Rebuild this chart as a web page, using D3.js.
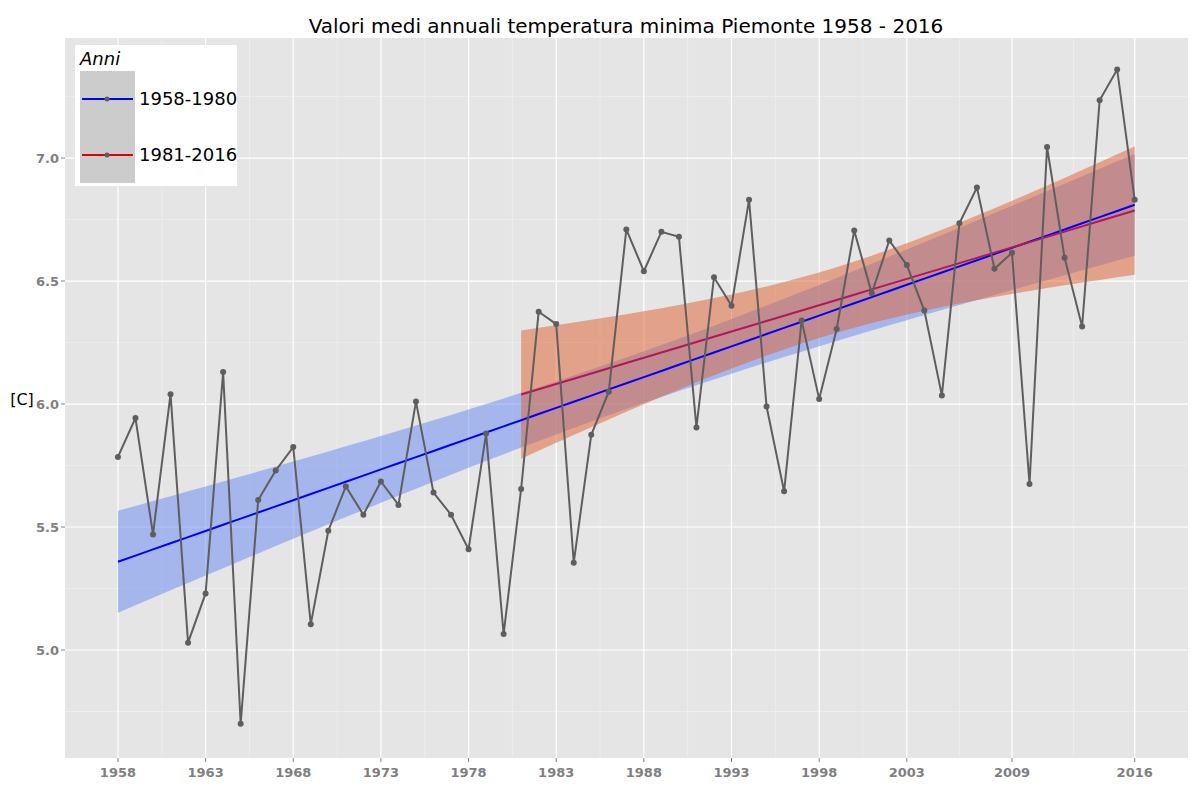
<!DOCTYPE html>
<html><head><meta charset="utf-8">
<script src="https://cdn.jsdelivr.net/npm/d3@7"></script>
<style>body{margin:0;background:#fff}text{font-family:"DejaVu Sans",sans-serif}</style>
</head><body><svg width="1200" height="800"></svg>
<script>
const years = d3.range(1958, 2017);
const temps = [5.785,5.943,5.47,6.04,5.03,5.23,6.13,4.70,5.61,5.73,5.825,5.105,5.485,5.665,5.55,5.685,5.59,6.01,5.64,5.55,5.41,5.88,5.065,
  5.655,6.375,6.325,5.355,5.875,6.05,6.71,6.54,6.70,6.68,5.905,6.515,6.40,6.83,5.99,5.645,6.34,6.02,6.305,6.705,6.45,6.665,6.565,6.38,6.035,6.735,6.88,6.55,6.615,5.675,7.045,6.595,6.315,7.235,7.36,6.83];
const xTicks = [1958,1963,1968,1973,1978,1983,1988,1993,1998,2003,2009,2016];
const yTicks = [5.0,5.5,6.0,6.5,7.0];
const groups = [{name:"1958-1980", from:1958, line:"#0000ff", band:"#7090f0", op:0.55},
                {name:"1981-2016", from:1981, line:"#e00000", band:"#e06030", op:0.5}];

const svg = d3.select("svg");
const L=65,R=1188,T=38,B=758;
const x = d3.scaleLinear().domain([1954.98,2019.04]).range([L,R]);
const y = d3.scaleLinear().domain([4.561,7.488]).range([B,T]);

svg.append("rect").attr("x",L).attr("y",T).attr("width",R-L).attr("height",B-T).attr("fill","#e5e5e5");
const minorX = xTicks.slice(1).map((t,i)=>(t+xTicks[i])/2);
const minorY = [4.75,5.25,5.75,6.25,6.75,7.25];
svg.selectAll(".mx").data(minorX).join("line").attr("x1",x).attr("x2",x).attr("y1",T).attr("y2",B).attr("stroke","#f2f2f2").attr("stroke-width",0.6);
svg.selectAll(".my").data(minorY).join("line").attr("y1",y).attr("y2",y).attr("x1",L).attr("x2",R).attr("stroke","#f2f2f2").attr("stroke-width",0.6);
svg.selectAll(".gx").data(xTicks).join("line").attr("x1",x).attr("x2",x).attr("y1",T).attr("y2",B).attr("stroke","#fff").attr("stroke-width",1.2);
svg.selectAll(".gy").data(yTicks).join("line").attr("y1",y).attr("y2",y).attr("x1",L).attr("x2",R).attr("stroke","#fff").attr("stroke-width",1.2);

// linear fit + 95% confidence band
function fit(xs, ys){
  const n=xs.length, mx=d3.mean(xs), my=d3.mean(ys);
  const sxx=d3.sum(xs,v=>(v-mx)**2);
  const b=d3.sum(xs,(v,i)=>(v-mx)*(ys[i]-my))/sxx, a=my-b*mx;
  const s=Math.sqrt(d3.sum(xs,(v,i)=>(ys[i]-a-b*v)**2)/(n-2));
  const t=2.0;
  return xs.map(v=>{const yh=a+b*v, se=s*Math.sqrt(1/n+(v-mx)**2/sxx); return {x:v,y:yh,lo:yh-t*se,hi:yh+t*se};});
}
groups.forEach(g=>{
  const idx=years.map((v,i)=>i).filter(i=>years[i]>=g.from);
  g.fit=fit(idx.map(i=>years[i]), idx.map(i=>temps[i]));
});
groups.forEach(g=>{
  svg.append("path").datum(g.fit).attr("fill",g.band).attr("opacity",g.op)
    .attr("d",d3.area().x(d=>x(d.x)).y0(d=>y(d.lo)).y1(d=>y(d.hi)));
});
groups.forEach(g=>{
  svg.append("path").datum(g.fit).attr("fill","none").attr("stroke",g.from>1960?"#b0185a":g.line).attr("stroke-width",2)
    .attr("d",d3.line().x(d=>x(d.x)).y(d=>y(d.y)));
});

svg.append("path").datum(temps).attr("fill","none").attr("stroke","#5e5e5e").attr("stroke-width",2)
  .attr("d",d3.line().x((d,i)=>x(years[i])).y(d=>y(d)));
svg.selectAll(".pt").data(temps).join("circle").attr("cx",(d,i)=>x(years[i])).attr("cy",y).attr("r",3).attr("fill","#5e5e5e");

// axes
svg.selectAll(".xt").data(xTicks).join("text").attr("x",x).attr("y",B+19).attr("text-anchor","middle")
  .attr("font-size",13).attr("font-weight","bold").attr("fill","#7f7f7f").text(d=>d);
svg.selectAll(".xk").data(xTicks).join("line").attr("x1",x).attr("x2",x).attr("y1",B).attr("y2",B+4).attr("stroke","#7f7f7f");
svg.selectAll(".yt").data(yTicks).join("text").attr("x",L-6).attr("y",d=>y(d)+5).attr("text-anchor","end")
  .attr("font-size",13).attr("font-weight","bold").attr("fill","#7f7f7f").text(d=>d.toFixed(1));
svg.selectAll(".yk").data(yTicks).join("line").attr("y1",y).attr("y2",y).attr("x1",L-4).attr("x2",L).attr("stroke","#7f7f7f");

svg.append("text").attr("x",626).attr("y",33).attr("text-anchor","middle").attr("font-size",20).text("Valori medi annuali temperatura minima  Piemonte 1958 - 2016");
svg.append("text").attr("x",22).attr("y",405).attr("text-anchor","middle").attr("font-size",16).text("[C]");

// legend
const lg=svg.append("g");
lg.append("rect").attr("x",75).attr("y",45).attr("width",162).attr("height",141).attr("fill","#fff");
lg.append("text").attr("x",80).attr("y",65).attr("font-size",18).attr("font-style","italic").text("Anni");
groups.forEach((g,i)=>{
  const cy=99+i*56;
  lg.append("rect").attr("x",80).attr("y",cy-28).attr("width",55).attr("height",56).attr("fill","#cccccc");
  lg.append("line").attr("x1",82).attr("x2",133).attr("y1",cy).attr("y2",cy).attr("stroke",g.line).attr("stroke-width",2);
  lg.append("circle").attr("cx",107).attr("cy",cy).attr("r",2.5).attr("fill","#5e5e5e");
  lg.append("text").attr("x",139).attr("y",cy+6).attr("font-size",18).text(g.name);
});
</script></body></html>
